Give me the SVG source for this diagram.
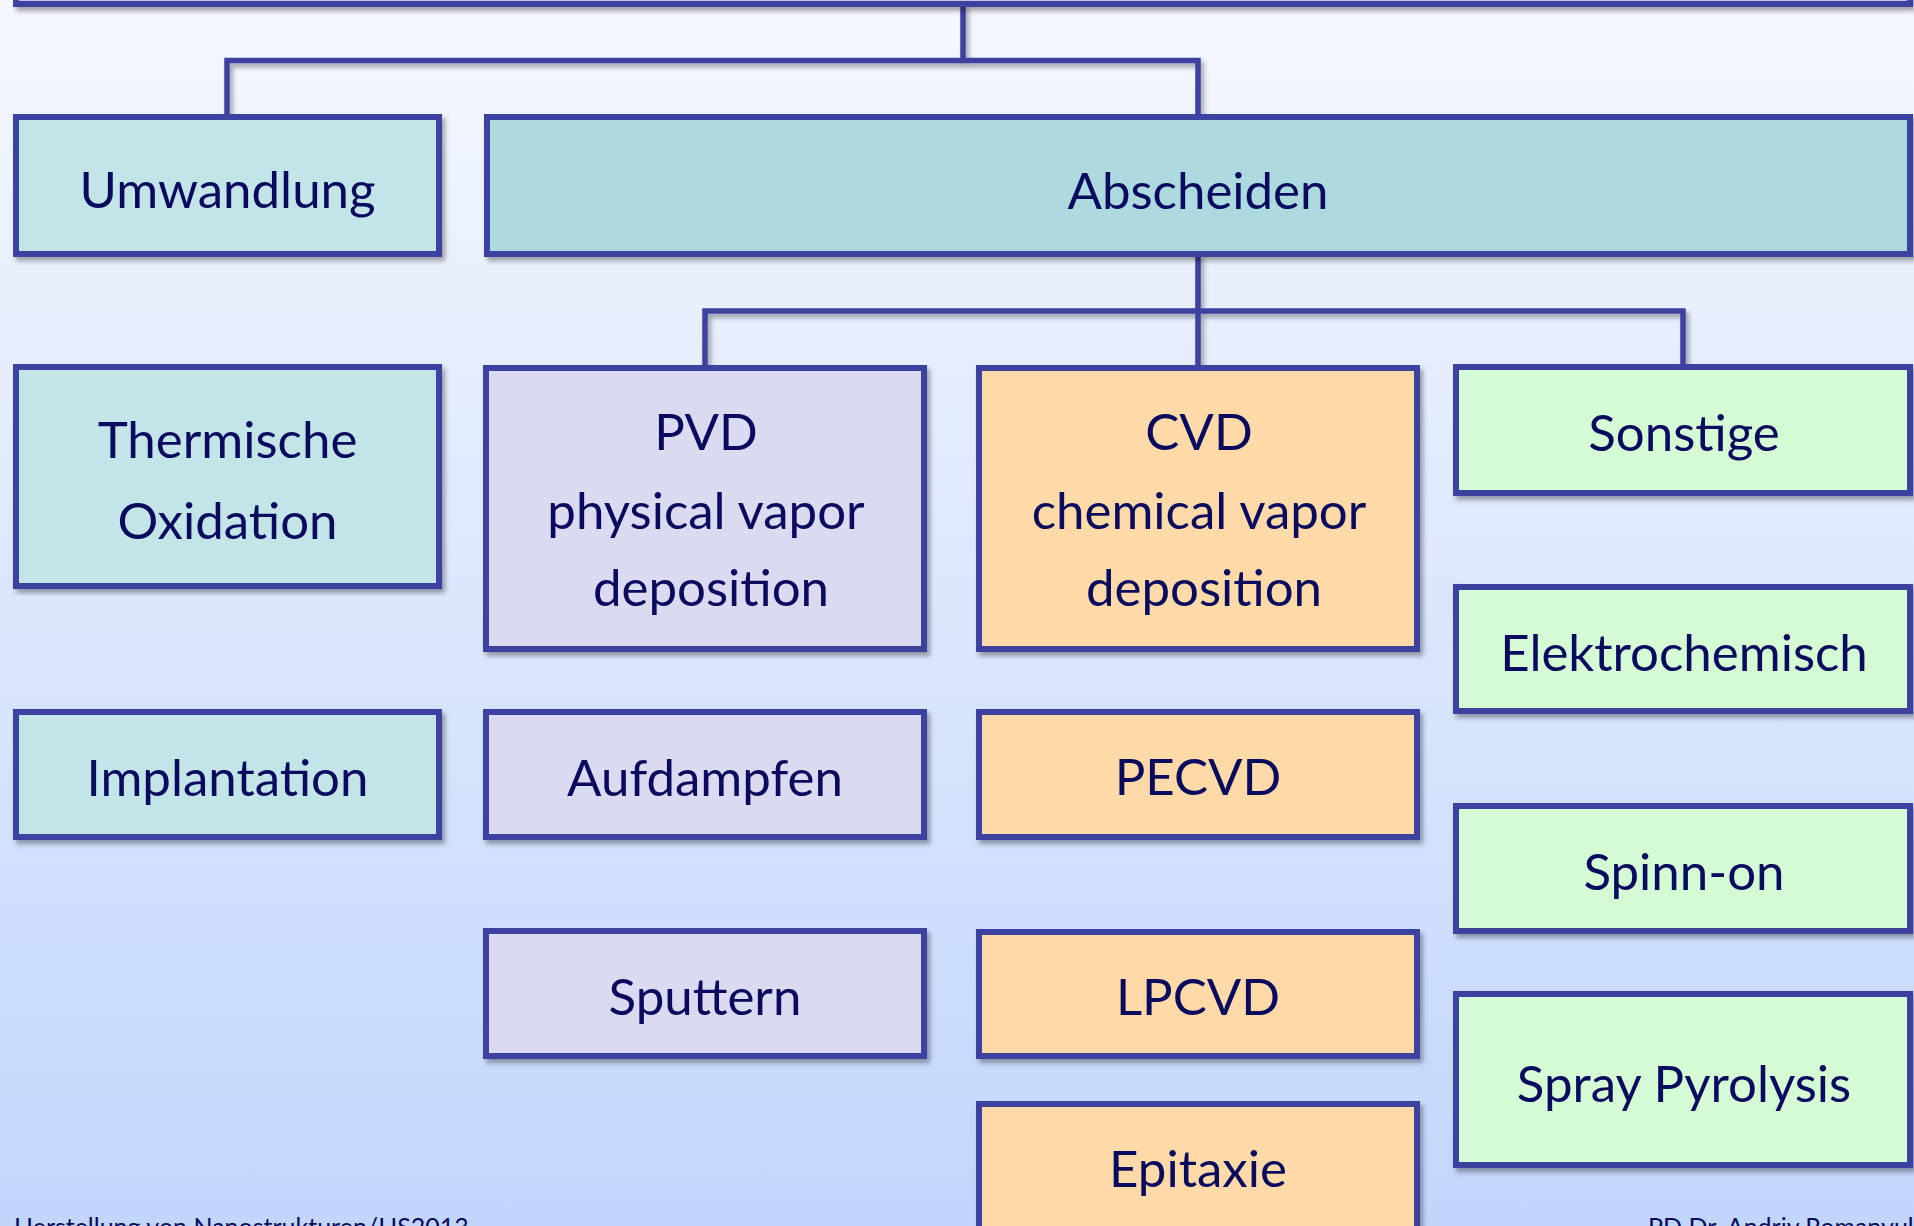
<svg xmlns="http://www.w3.org/2000/svg" width="1914" height="1226" viewBox="0 0 1914 1226">
<defs>
<linearGradient id="bg" x1="0" y1="0" x2="0" y2="1">
<stop offset="0" stop-color="#f5f8fe"/>
<stop offset="1" stop-color="#c2d6fc"/>
</linearGradient>
<filter id="sh" x="-10%" y="-10%" width="130%" height="130%">
<feDropShadow dx="3" dy="4" stdDeviation="2.5" flood-color="#000" flood-opacity="0.35"/>
</filter>
</defs>
<style>
.box{stroke:#3d42a0;stroke-width:6;filter:url(#sh)}
.teal1{fill:#c4e5e8}
.teal2{fill:#acdade}
.pvd{fill:#dadaf0}
.cvd{fill:#fedaa8}
.son{fill:#d5fbd5}
.conn path{fill:none;stroke:#3d42a0;stroke-width:5.5;stroke-linejoin:miter;stroke-linecap:butt;filter:url(#sh)}
text{font-family:Lato,"Open Sans","Liberation Sans",sans-serif;fill:#0a0a5e;text-anchor:middle;font-size:51px}
.foot{font-size:25px;text-anchor:start}
</style>
<rect x="0" y="0" width="1914" height="1226" fill="url(#bg)"/>
<g id="connectors" class="conn">
<path d="M963,4 V60.5 M227,117 V60.5 H1198 V117"/>
<path d="M227,254 V367 M227,586 V712"/>
<path d="M1198,254 V368 M705,368 V311 H1683 V367"/>
<path d="M705,649 V712 M705,837 V931"/>
<path d="M1198,649 V712 M1198,837 V932 M1198,1056 V1104"/>
<path d="M1683,493 V587 M1683,711 V806 M1683,931 V994"/>
</g>
<g id="top"><rect class="box" x="16" y="-200" width="1894" height="204" fill="#c8bfe6"/></g>
<g id="umwandlung"><rect class="box teal1" x="16" y="117" width="423" height="137"/><text x="227.5" y="208">Umwandlung</text></g>
<g id="abscheiden"><rect class="box teal2" x="487" y="117" width="1423" height="137"/><text x="1198" y="209">Abscheiden</text></g>
<g id="thermische"><rect class="box teal1" x="16" y="367" width="423" height="219"/><text x="227.5" y="458">Thermische</text><text x="227.5" y="539">Oxidation</text></g>
<g id="implantation"><rect class="box teal1" x="16" y="712" width="423" height="125"/><text x="227.5" y="796">Implantation</text></g>
<g id="pvd"><rect class="box pvd" x="486" y="368" width="438" height="281"/><text x="706" y="450">PVD</text><text x="706" y="529">physical vapor</text><text x="711" y="606">deposition</text></g>
<g id="aufdampfen"><rect class="box pvd" x="486" y="712" width="438" height="125"/><text x="705" y="796">Aufdampfen</text></g>
<g id="sputtern"><rect class="box pvd" x="486" y="931" width="438" height="125"/><text x="705" y="1015">Sputtern</text></g>
<g id="cvd"><rect class="box cvd" x="979" y="368" width="438" height="281"/><text x="1199" y="450">CVD</text><text x="1199" y="529">chemical vapor</text><text x="1204" y="606">deposition</text></g>
<g id="pecvd"><rect class="box cvd" x="979" y="712" width="438" height="125"/><text x="1198" y="795">PECVD</text></g>
<g id="lpcvd"><rect class="box cvd" x="979" y="932" width="438" height="124"/><text x="1198" y="1015">LPCVD</text></g>
<g id="epitaxie"><rect class="box cvd" x="979" y="1104" width="438" height="200"/><text x="1198" y="1187">Epitaxie</text></g>
<g id="sonstige"><rect class="box son" x="1456" y="367" width="454" height="126"/><text x="1684" y="451">Sonstige</text></g>
<g id="elektrochemisch"><rect class="box son" x="1456" y="587" width="454" height="124"/><text x="1684" y="671">Elektrochemisch</text></g>
<g id="spinnon"><rect class="box son" x="1456" y="806" width="454" height="125"/><text x="1684" y="890">Spinn-on</text></g>
<g id="spray"><rect class="box son" x="1456" y="994" width="454" height="171"/><text x="1684" y="1102">Spray Pyrolysis</text></g>
<text class="foot" x="14" y="1236">Herstellung von Nanostrukturen/HS2013</text>
<text class="foot" x="1648" y="1236">PD Dr. Andriy Romanyuk</text>
</svg>
